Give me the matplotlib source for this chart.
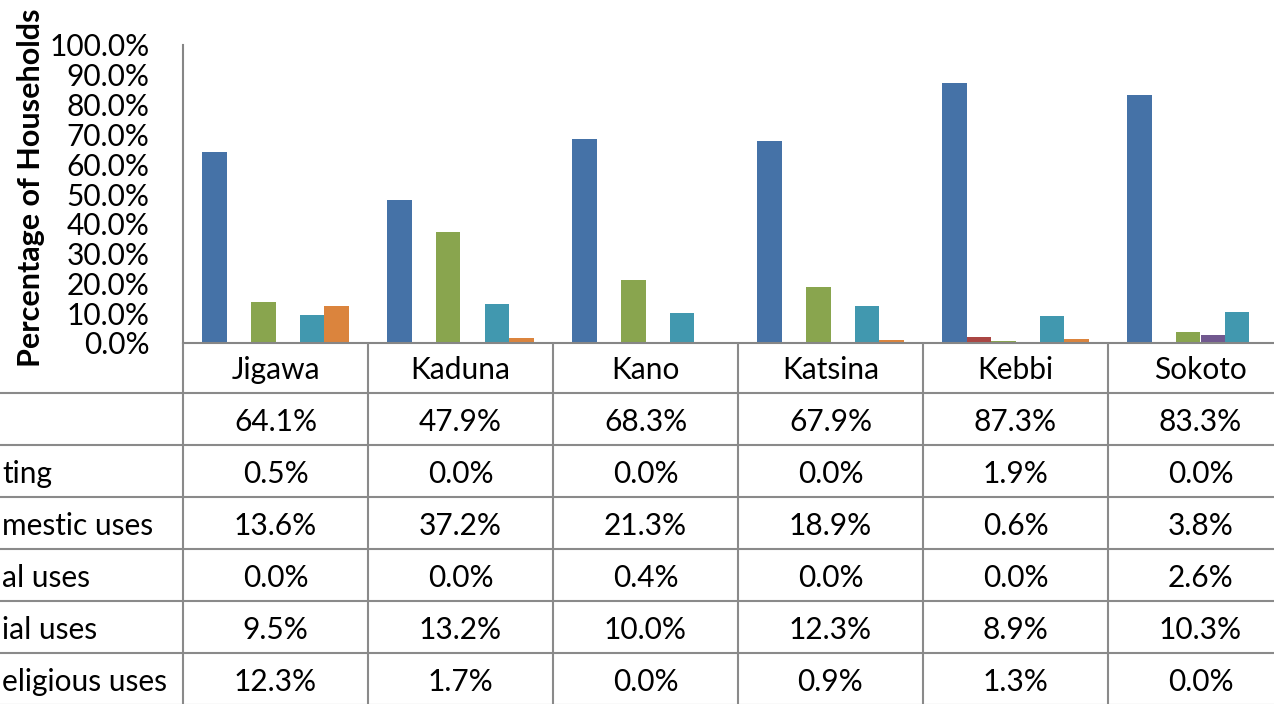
import numpy as np
import matplotlib.pyplot as plt

plt.rcParams['font.family'] = ['Lato', 'DejaVu Sans']

states = ['Jigawa', 'Kaduna', 'Kano', 'Katsina', 'Kebbi', 'Sokoto']
# row labels as far as they show in the (cropped) reference
row_labels = ['', 'ting', 'mestic uses', 'al uses', 'ial uses', 'eligious uses']
s1 = [64.1, 47.9, 68.3, 67.9, 87.3, 83.3]
s2 = [0.5, 0.0, 0.0, 0.0, 1.9, 0.0]
s3 = [13.6, 37.2, 21.3, 18.9, 0.6, 3.8]
s4 = [0.0, 0.0, 0.4, 0.0, 0.0, 2.6]
s5 = [9.5, 13.2, 10.0, 12.3, 8.9, 10.3]
s6 = [12.3, 1.7, 0.0, 0.9, 1.3, 0.0]
series = [s1, s2, s3, s4, s5, s6]
colors = ['#4572A7', '#AA4643', '#89A54E', '#71588F', '#4198AF', '#DB843D']

W, H = 1274, 704
fig = plt.figure(figsize=(W / 100, H / 100), dpi=100)

# chart area (runs off the right edge like the reference crop)
x0, ytop, ybot, colw = 183, 45, 343, 185
ax = fig.add_axes([x0 / W, (H - ybot) / H, colw * 6 / W, (ybot - ytop) / H])
x = np.arange(len(states))
bw = 0.1324
for i, (vals, c) in enumerate(zip(series, colors)):
    ax.bar(x + (i - 2.5) * bw, vals, bw, color=c)
ax.set_xlim(-0.5, 5.5)
ax.set_ylim(0, 100)
ax.set_yticks(np.arange(0, 101, 10))
ax.set_yticklabels(['%.1f%%' % v for v in np.arange(0, 101, 10)])
ax.tick_params(axis='y', length=0, pad=24, labelsize=21.5)
ax.set_xticks([])
for s in ['top', 'right']:
    ax.spines[s].set_visible(False)
for s in ['left', 'bottom']:
    ax.spines[s].set_color('#868686')
    ax.spines[s].set_linewidth(1.5)
fig.text(31 / W, 1 - 188 / H, 'Percentage of Households', rotation=90,
         ha='center', va='center', fontsize=22, fontweight='bold')

# data table below the chart, in pixel coordinates
tb = fig.add_axes([0, 0, 1, 1])
tb.set_xlim(0, W)
tb.set_ylim(H, 0)
tb.axis('off')
lc = '#8a8a8a'
fs = 21.5
rows_y = [393 + 52 * i for i in range(7)]
tb.vlines([x0 + colw * i for i in range(7)], ybot, H, color=lc, lw=1.5)
tb.hlines(rows_y, 0, x0 + colw * 6, color=lc, lw=1.5)
for j, st in enumerate(states):
    tb.text(x0 + colw * (j + 0.5), (ybot + rows_y[0]) / 2 + 2, st,
            ha='center', va='center', fontsize=fs)
for i, vals in enumerate(series):
    yc = (rows_y[i] + rows_y[i + 1]) / 2 + 3
    tb.text(2, yc, row_labels[i], ha='left', va='center', fontsize=fs)
    for j, v in enumerate(vals):
        tb.text(x0 + colw * (j + 0.5), yc, '%.1f%%' % v,
                ha='center', va='center', fontsize=fs)

fig.savefig('out.png', dpi=100)
